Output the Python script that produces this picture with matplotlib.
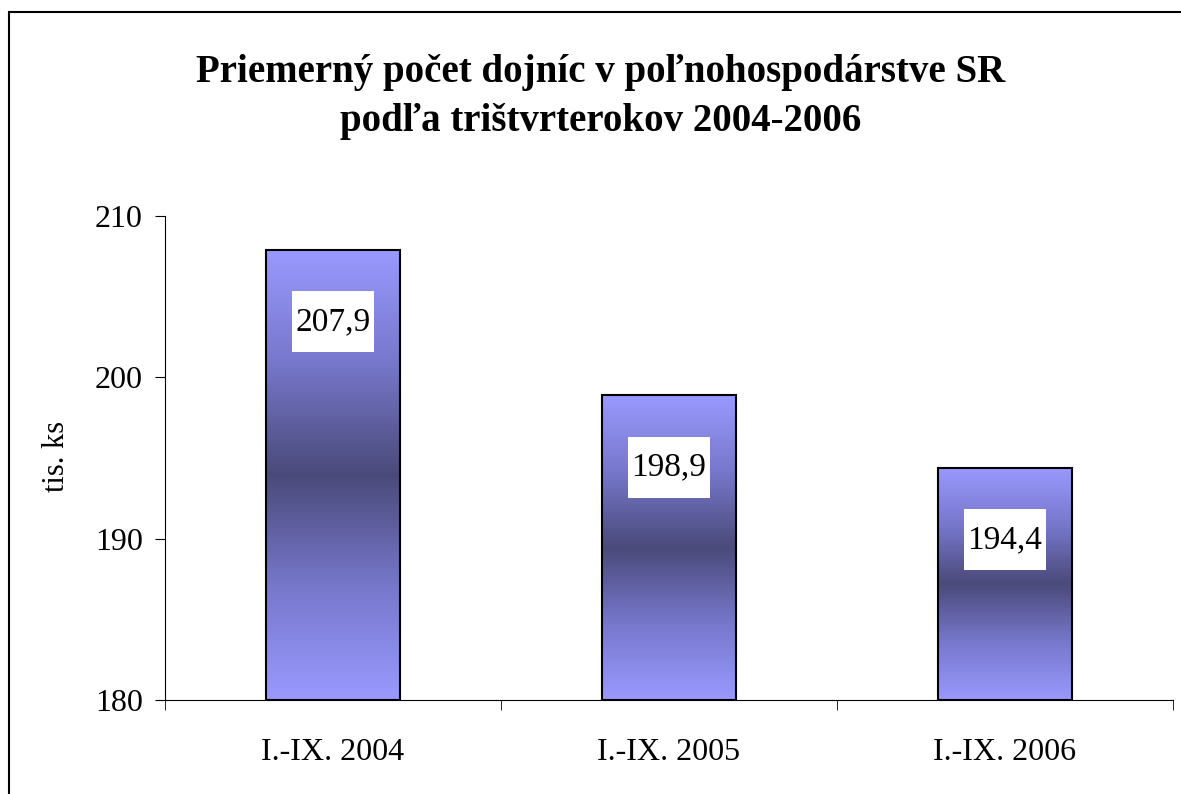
import numpy as np
import matplotlib
matplotlib.use('Agg')
import matplotlib.pyplot as plt
from matplotlib.colors import LinearSegmentedColormap
from matplotlib.patches import Rectangle

categories = ['I.-IX. 2004', 'I.-IX. 2005', 'I.-IX. 2006']
values = [207.9, 198.9, 194.4]
labels = ['207,9', '198,9', '194,4']
title = 'Priemerný počet dojníc v poľnohospodárstve SR\npodľa trištvrterokov 2004-2006'
ylabel = 'tis. ks'

plt.rcParams['font.family'] = ['Liberation Serif', 'DejaVu Serif']

fig = plt.figure(figsize=(11.81, 7.94), dpi=100)
# outer chart border (left and top visible)
fig.patches.append(Rectangle((9/1181, -0.1), 1.2, (794-12)/794 + 0.1, transform=fig.transFigure,
                             fill=False, edgecolor='black', linewidth=1.5))

ax = fig.add_axes([165/1181, 94/794, 1008/1181, 484/794])

cmap = LinearSegmentedColormap.from_list('bar', ['#9999ff', '#7777cc', '#4a4a7a', '#7777cc', '#9999ff'])
grad = np.linspace(0, 1, 256).reshape(-1, 1)
ymin = 180
w = 0.4
for i, v in enumerate(values):
    ax.imshow(grad, cmap=cmap, aspect='auto', origin='lower',
              extent=(i - w/2, i + w/2, ymin, v), zorder=2, interpolation='bilinear')
    ax.bar(i, v - ymin, bottom=ymin, width=w, fill=False, edgecolor='black', linewidth=1.5, zorder=3)
    # white label box
    bw, bh, off = 0.244, 3.78, 4.46
    ax.add_patch(Rectangle((i - bw/2, v - off - bh/2), bw, bh, facecolor='white', edgecolor='none', zorder=4))
    ax.text(i, v - off, labels[i], ha='center', va='center', fontsize=24, zorder=5)

ax.set_xlim(-0.5, 2.5)
ax.set_ylim(180, 210)
ax.set_yticks([180, 190, 200, 210])
ax.set_xticks(range(len(categories)))
ax.set_xticklabels(categories)
ax.set_xticks([-0.5, 0.5, 1.5, 2.5], minor=True)
ax.tick_params(axis='x', which='major', length=0, pad=27, labelsize=23)
ax.tick_params(axis='x', which='minor', length=7, direction='out')
ax.tick_params(axis='y', length=7, direction='out', pad=9, labelsize=23)
for s in ['top', 'right']:
    ax.spines[s].set_visible(False)
fig.text(57/1181, 1 - 456/794, ylabel, rotation=90, ha='center', va='center', fontsize=22)
fig.text(601/1181, 1 - 97/794, title, ha='center', va='center', fontsize=28, fontweight='bold', linespacing=1.45)

fig.savefig('out.png', dpi=100)
